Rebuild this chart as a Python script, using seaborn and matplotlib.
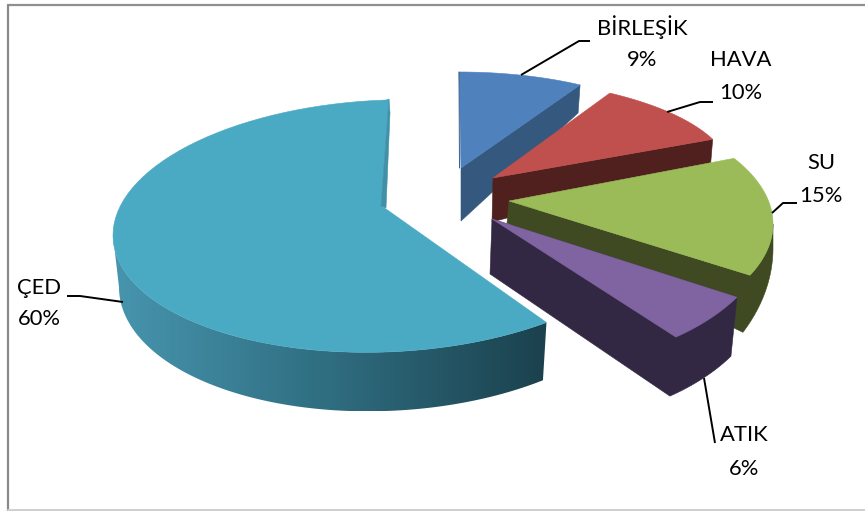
import numpy as np
import matplotlib
matplotlib.use("Agg")
import matplotlib.pyplot as plt
from matplotlib.colors import LinearSegmentedColormap
from matplotlib.patches import Polygon
import seaborn as sns

# Shares per category, clockwise from twelve o'clock
categories = ["BİRLEŞİK", "HAVA", "SU", "ATIK", "ÇED"]
shares = [9, 10, 15, 6, 60]

top_colors = ["#4f81bd", "#c0504d", "#9bbb59", "#8064a2", "#4aa9c3"]
side_colors = ["#35587f", "#4f201e", "#3f4a22", "#332843", "#4090a8"]

# Projected rim of each exploded slice: centre x, centre y, radius x, radius y, skew
rims = [
    (459, 155, 226, 83, 0.0),
    (470, 175, 261, 97, 0.0),
    (493, 224, 280, 129, 0.0),
    (536, 219, 238, 146, 0.0),
    (386, 226, 273, 126, 0.034),
]
# Lower rim of the visible outer wall, same layout as above
lower_rims = {
    2: (493, 248, 280, 187, 0.0),
    3: (530, 278, 238, 146, 0.0),
    4: (386, 278, 267, 133, 0.034),
}
apexes = [(461, 168), (493, 178), (509, 201), (492, 219), (381, 206)]
apex_floor = [(461, 221), (492, 222), (507, 223), (490, 274), (386, 209)]
angle_nudge = [0, 0, 9, 0, 0]

# Label centres (name line, value line) and leader polylines
label_xy = [((642, 27), (642, 60)), ((741, 60), (741, 93)), ((821, 163), (821, 196)),
            ((744, 435), (744, 469)), ((39, 288), (39, 319))]
leaders = [
    [(521, 75), (579, 41), (590, 41)],
    [(667, 112), (700, 102), (713, 102)],
    [(772, 213), (783, 203), (797, 203)],
    [(704, 378), (715, 443)],
    [(123, 302), (80, 296), (67, 296)],
]

sns.set_theme(style="white")
plt.rcParams["font.family"] = ["Lato", "DejaVu Sans"]

fig = plt.figure(figsize=(8.65, 5.11), dpi=100)
ax = fig.add_axes([0, 0, 1, 1])
ax.axis("off")


def rim_points(rim, t0, t1, n=80):
    cx, cy, rx, ry, skew = rim
    t = np.radians(np.linspace(t0, t1, n))
    x = cx + rx * np.cos(t)
    y = cy - ry * np.sin(t) - skew * rx * np.cos(t)
    return np.column_stack([x, y])


# Angular span of every slice follows from the shares
edges = 90 - 3.6 * np.concatenate([[0], np.cumsum(shares)])
spans = [(edges[i] + angle_nudge[i], edges[i + 1] + angle_nudge[i]) for i in range(len(shares))]


def fill(points, color, z):
    ax.fill(*np.asarray(points).T, color=color, lw=0.4, zorder=z)


# Cut faces and walls of the four small slices, each one under its own top face
a0, a1 = spans[0]
end = rim_points(rims[0], a1, a1, 1)[0]
fill([apexes[0], end, end + (-2, 28), apex_floor[0]], side_colors[0], 1)
a0, a1 = spans[1]
end = rim_points(rims[1], a1, a1, 1)[0]
fill([apexes[1], end, end + (-2, 24), apex_floor[1]], side_colors[1], 3)

a0, a1 = spans[2]
upper = rim_points(rims[2], a1, 0)
lower = rim_points(lower_rims[2], 0, a1 - 3.4)
fill([apexes[2], *upper, *lower, (734, 328), apex_floor[2]], side_colors[2], 5)

a0, a1 = spans[3]
upper = rim_points(rims[3], a0, a0, 1)
lower = rim_points(lower_rims[3], a0, a1)
fill([apexes[3], *upper, *lower, apex_floor[3]], side_colors[3], 7)

# Top faces
for i in range(4):
    a0, a1 = spans[i]
    fill([apexes[i], *rim_points(rims[i], a0, a1)], top_colors[i], 2 * i + 2)

ax.plot([459, 459.5], [72, 168], color="#3a5a85", lw=0.7, zorder=2.5)

# Large slice: outer wall shaded left to right through a clipped horizontal ramp
a0, a1 = spans[4]
upper = rim_points(rims[4], -180, a0, 160)
lower = rim_points(lower_rims[4], a0, -180, 160)
outline = np.vstack([upper, lower])
shade = LinearSegmentedColormap.from_list("wall", ["#4795ae", "#2f6d80", "#1b414d"])
x_low, x_high = outline[:, 0].min(), outline[:, 0].max()
y_low, y_high = outline[:, 1].min(), outline[:, 1].max()
wall = ax.imshow(np.linspace(0, 1, 400).reshape(1, -1), cmap=shade, aspect="auto",
                 extent=(x_low, x_high, y_high, y_low), interpolation="bilinear", zorder=9)
wall.set_clip_path(Polygon(outline, transform=ax.transData))

# Top face runs up to the corner of the inner cut, whose sliver shows beside it
fill([apexes[4], apex_floor[4], *rim_points(rims[4], a0, a1), (389, 99)], top_colors[4], 10)
fill([(389, 99), (390, 113), (386, 208), (381, 206)], side_colors[4], 11)

# Leaders and two-line data labels
for path in leaders:
    ax.plot(*np.array(path).T, color="black", lw=1.4, zorder=12, solid_capstyle="butt")
for name, value, (p_name, p_value) in zip(categories, shares, label_xy):
    ax.text(*p_name, name, ha="center", va="center", fontsize=15.8, color="black", zorder=13)
    ax.text(*p_value, f"{value}%", ha="center", va="center", fontsize=15.8, color="black", zorder=13)

# Chart frame
ax.plot([8, 865], [5, 5], color="#8f8f8f", lw=1.6, zorder=14)
ax.plot([8, 8], [5, 511], color="#8a8a8a", lw=1.6, zorder=14)
ax.plot([8, 865], [510, 510], color="#cfcfcf", lw=1.4, zorder=14)

ax.set_xlim(0, 865)
ax.set_ylim(511, 0)

fig.savefig("out.png", dpi=100, facecolor="white")
